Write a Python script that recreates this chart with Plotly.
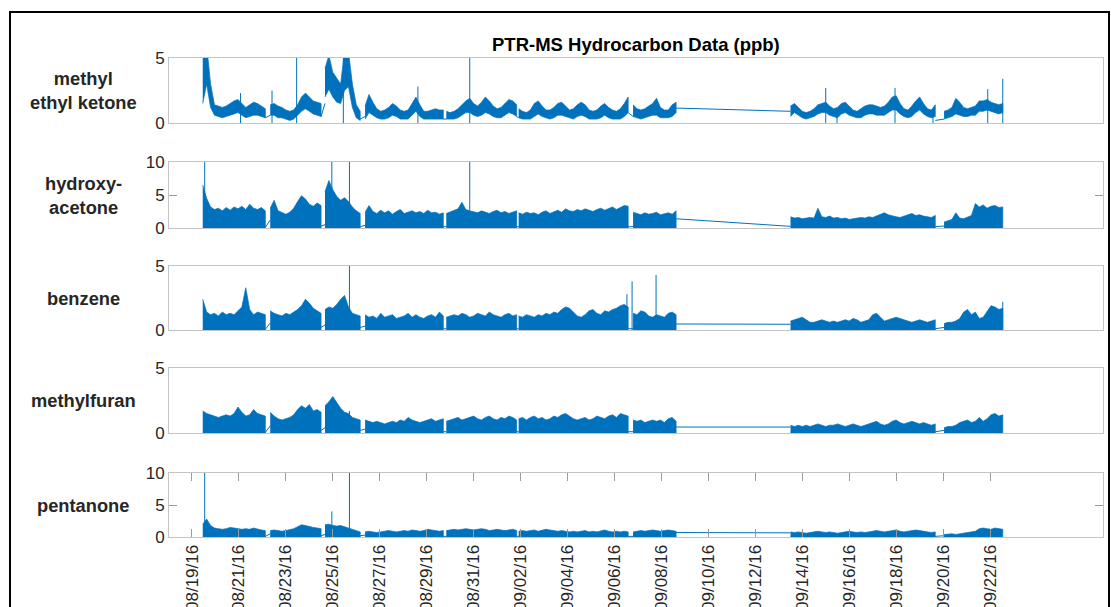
import pandas as pd
import plotly.graph_objects as go

# ---------------------------------------------------------------------------
# PTR-MS hydrocarbon record, Aug-Sep 2016 (ppb).
# Each series is stored as a 4-hour max/min envelope for every
# continuous measurement segment; isolated spikes and the samples
# bridging gaps between segments are listed separately.
# ---------------------------------------------------------------------------

SEG_START = ["2016-08-19 11:00", "2016-08-22 08:00", "2016-08-24 16:00",
             "2016-08-26 09:00", "2016-08-29 20:00", "2016-09-01 22:00",
             "2016-09-06 19:00", "2016-09-13 12:00", "2016-09-20 01:00"]
SEG_LEN = [17, 14, 10, 21, 19, 29, 12, 38, 16]
STEP = "4h"

SPECIES = ["methyl<br>ethyl ketone", "hydroxy-<br>acetone", "benzene",
           "methylfuran", "pentanone"]
Y_MAX = [5, 10, 5, 5, 10]
Y_TICKS = [[0, 5], [0, 5, 10], [0, 5], [0, 5], [0, 5, 10]]

TICK_DATES = ["2016-08-19", "2016-08-21", "2016-08-23", "2016-08-25",
              "2016-08-27", "2016-08-29", "2016-08-31", "2016-09-02",
              "2016-09-04", "2016-09-06", "2016-09-08", "2016-09-10",
              "2016-09-12", "2016-09-14", "2016-09-16", "2016-09-18",
              "2016-09-20", "2016-09-22"]
X_RANGE = ["2016-08-18 00:30", "2016-09-26 19:30"]

# methyl ethyl ketone
MEK_HIGH = [
    [5.5, 6.0, 3.0, 1.4, 1.3, 1.2, 1.3, 1.5, 1.7, 1.8, 1.5, 1.2, 1.4, 1.6, 1.5, 1.3, 1.1],
    [1.4, 1.5, 1.3, 1.2, 1.0, 0.9, 1.0, 1.4, 2.0, 2.3, 2.0, 1.7, 1.6, 1.5],
    [4.2, 5.2, 3.9, 3.4, 3.0, 5.5, 5.5, 3.0, 1.4, 0.9],
    [1.3, 2.2, 1.6, 1.1, 0.9, 1.0, 1.2, 1.5, 1.3, 1.0, 0.9, 1.0, 1.5, 2.0, 1.4, 0.9, 0.9, 1.0, 1.1, 1.0, 1.0],
    [0.9, 0.8, 0.9, 1.1, 1.4, 1.7, 1.9, 1.5, 1.3, 1.6, 2.0, 1.7, 1.3, 1.1, 1.2, 1.5, 1.8, 1.7, 1.4],
    [1.1, 0.9, 0.8, 1.0, 1.5, 1.7, 1.3, 1.0, 1.0, 1.2, 1.5, 1.6, 1.3, 1.0, 1.1, 1.4, 1.6, 1.4, 1.0, 0.9,
     1.0, 1.3, 1.5, 1.2, 1.0, 0.9, 1.1, 1.5, 2.0],
    [1.4, 1.1, 1.0, 1.1, 1.3, 1.5, 1.9, 1.2, 1.0, 1.0, 1.4, 1.6],
    [1.3, 1.5, 1.2, 0.9, 0.8, 0.9, 1.1, 1.4, 1.5, 1.6, 1.3, 1.1, 1.2, 1.5, 1.6, 1.3, 1.0, 0.9, 1.1, 1.3,
     1.4, 1.4, 1.3, 1.2, 1.3, 1.6, 2.0, 2.1, 1.5, 1.1, 1.0, 1.3, 1.7, 2.0, 1.5, 1.1, 1.0, 1.4],
    [0.9, 1.0, 1.2, 1.9, 1.6, 1.2, 1.1, 1.2, 1.3, 1.7, 1.7, 1.8, 1.6, 1.5, 1.4, 1.5],
]
MEK_LOW = [
    [1.5, 3.0, 1.2, 0.6, 0.5, 0.4, 0.5, 0.6, 0.7, 0.8, 0.6, 0.4, 0.5, 0.6, 0.6, 0.5, 0.4],
    [0.6, 0.6, 0.4, 0.4, 0.3, 0.2, 0.3, 0.6, 0.9, 1.1, 0.9, 0.7, 0.6, 0.5],
    [2.0, 2.6, 2.0, 1.6, 1.5, 2.5, 2.8, 1.2, 0.4, 0.2],
    [0.3, 0.8, 0.6, 0.4, 0.3, 0.3, 0.4, 0.6, 0.5, 0.3, 0.3, 0.3, 0.6, 0.9, 0.5, 0.3, 0.3, 0.3, 0.3, 0.3, 0.3],
    [0.3, 0.3, 0.3, 0.4, 0.6, 0.8, 0.8, 0.6, 0.5, 0.6, 0.8, 0.7, 0.5, 0.4, 0.4, 0.6, 0.8, 0.7, 0.5],
    [0.4, 0.3, 0.3, 0.3, 0.5, 0.7, 0.5, 0.4, 0.3, 0.4, 0.6, 0.6, 0.5, 0.4, 0.3, 0.5, 0.6, 0.5, 0.3, 0.3,
     0.3, 0.4, 0.6, 0.4, 0.3, 0.3, 0.3, 0.5, 0.8],
    [0.5, 0.4, 0.3, 0.4, 0.5, 0.6, 0.6, 0.4, 0.4, 0.4, 0.5, 0.8],
    [0.5, 0.8, 0.6, 0.4, 0.3, 0.4, 0.5, 0.7, 0.8, 0.8, 0.6, 0.5, 0.4, 0.7, 0.8, 0.6, 0.5, 0.4, 0.4, 0.6,
     0.7, 0.7, 0.6, 0.6, 0.6, 0.8, 1.0, 1.0, 0.7, 0.5, 0.4, 0.5, 0.8, 1.0, 0.7, 0.5, 0.4, 0.5],
    [0.3, 0.4, 0.5, 0.7, 0.6, 0.5, 0.5, 0.6, 0.6, 0.9, 0.9, 1.0, 0.9, 0.8, 0.7, 0.8],
]
MEK_SPIKE_T = ["2016-08-21 01:40", "2016-08-22 09:50", "2016-08-23 11:00", "2016-08-25 10:45",
               "2016-08-28 15:00", "2016-08-30 20:00", "2016-09-15 00:00", "2016-09-15 11:30",
               "2016-09-17 22:50", "2016-09-19 13:40", "2016-09-21 21:40", "2016-09-22 13:00"]
MEK_SPIKE_V = [2.3, 2.5, 5.5, 5.5, 2.8, 5.5, 2.7, 1.0, 2.7, 1.0, 2.6, 3.4]
MEK_LINK = [(0.4, 0.6), (0.5, 1.5), (0.3, 0.5), (0.3, 0.3), (0.5, 0.4), (0.8, 0.5), (1.15, 0.9), (0.2, 0.3)]

# hydroxyacetone
HAC_HIGH = [
    [6.5, 4.5, 3.2, 2.8, 3.0, 2.6, 3.1, 2.7, 3.2, 2.9, 3.3, 2.8, 3.6, 3.0, 2.8, 3.1, 2.6],
    [3.0, 4.2, 2.6, 2.3, 2.1, 2.4, 3.0, 4.0, 4.9, 4.4, 3.6, 3.3, 3.8, 3.4],
    [5.5, 7.2, 5.8, 4.8, 4.2, 4.6, 4.0, 3.2, 2.6, 2.2],
    [2.4, 3.4, 2.5, 2.2, 2.7, 2.3, 2.6, 2.1, 2.5, 2.8, 2.2, 2.4, 2.6, 2.3, 2.5, 2.2, 2.7, 2.3, 2.4, 2.1, 2.3],
    [2.2, 2.4, 2.6, 2.9, 3.9, 2.8, 2.6, 2.5, 2.3, 2.6, 2.4, 2.2, 2.5, 2.7, 2.3, 2.5, 2.2, 2.4, 2.6],
    [2.3, 2.1, 2.4, 2.2, 2.3, 2.0, 2.4, 2.6, 2.2, 2.5, 2.7, 2.4, 2.9, 2.6, 2.5, 2.8, 2.6, 2.9, 2.7, 2.5,
     2.8, 3.0, 2.7, 2.9, 3.2, 2.8, 3.1, 3.4, 3.3],
    [2.4, 2.2, 2.0, 2.3, 2.1, 2.2, 2.4, 2.0, 2.2, 2.3, 2.1, 2.6],
    [1.7, 1.5, 1.6, 1.4, 1.5, 1.6, 1.5, 3.0, 1.7, 1.6, 1.8, 1.5, 1.6, 1.4, 1.5, 1.3, 1.4, 1.5, 1.6, 1.5,
     1.7, 1.6, 1.8, 2.0, 2.3, 2.0, 1.8, 1.7, 1.6, 1.8, 2.0, 2.2, 1.9, 2.0, 1.8, 1.7, 1.6, 1.9],
    [0.9, 1.1, 1.3, 2.3, 1.5, 1.4, 1.6, 1.9, 3.7, 3.2, 3.5, 3.0, 3.3, 3.4, 3.1, 3.2],
]
HAC_SPIKE_T = ["2016-08-19 13:00", "2016-08-24 23:00", "2016-08-25 17:00", "2016-08-30 20:00"]
HAC_SPIKE_V = [10.5, 10.5, 10.5, 10.5]
HAC_LINK = [(0.1, 1.2), (0.3, 0.5), (0.2, 0.4), (0.2, 0.2), (0.2, 0.2), (0.2, 0.2), (1.4, 0.25), (0.2, 0.3)]

# benzene
BEN_HIGH = [
    [2.4, 1.4, 1.2, 1.3, 1.1, 1.4, 1.2, 1.3, 1.2, 1.5, 1.8, 3.3, 1.6, 1.2, 1.4, 1.3, 1.2],
    [1.5, 1.3, 1.2, 1.1, 1.3, 1.2, 1.4, 1.6, 1.9, 2.4, 2.1, 1.7, 1.5, 1.3],
    [1.6, 1.8, 1.7, 2.0, 2.4, 2.7, 1.8, 1.3, 1.2, 1.1],
    [1.2, 1.0, 1.1, 0.9, 1.3, 1.0, 1.1, 1.2, 0.9, 1.0, 1.1, 1.3, 1.0, 1.2, 1.0, 0.9, 1.1, 1.2, 1.0, 1.4, 1.1],
    [1.0, 1.1, 1.2, 1.1, 1.3, 1.2, 1.0, 1.1, 1.3, 1.2, 1.1, 1.4, 1.2, 1.1, 1.0, 1.2, 1.3, 1.1, 1.2],
    [1.1, 1.0, 1.2, 1.1, 1.0, 1.2, 1.1, 1.3, 1.2, 1.4, 1.3, 1.6, 1.8, 1.7, 1.4, 1.1, 1.0, 1.2, 1.5, 1.6,
     1.3, 1.2, 1.5, 1.4, 1.6, 1.7, 1.9, 2.0, 1.8],
    [1.3, 1.2, 1.5, 1.4, 1.1, 1.0, 1.2, 1.1, 1.0, 1.3, 1.4, 1.2],
    [0.7, 0.8, 0.9, 1.0, 0.8, 0.6, 0.6, 0.7, 0.8, 0.7, 0.6, 0.7, 0.6, 0.7, 0.8, 0.7, 0.9, 0.8, 0.6, 0.7,
     0.8, 1.2, 1.3, 1.0, 0.7, 0.8, 0.9, 1.0, 0.9, 0.8, 0.7, 0.6, 0.7, 0.8, 0.7, 0.6, 0.7, 0.8],
    [0.5, 0.6, 0.6, 0.7, 0.9, 1.4, 1.6, 1.2, 1.4, 0.9, 1.0, 1.5, 1.9, 1.8, 1.6, 1.7],
]
BEN_SPIKE_T = ["2016-08-25 17:00", "2016-09-06 12:45", "2016-09-06 18:00", "2016-09-07 18:30",
               "2016-09-22 13:00"]
BEN_SPIKE_V = [5.3, 2.8, 3.8, 4.3, 2.2]
BEN_LINK = [(0.05, 0.55), (0.2, 0.4), (0.2, 0.3), (0.1, 0.1), (0.1, 0.1), (0.1, 0.1), (0.47, 0.45), (0.1, 0.2)]

# methylfuran
MFU_HIGH = [
    [1.7, 1.5, 1.4, 1.3, 1.2, 1.3, 1.4, 1.3, 1.5, 2.0, 1.6, 1.3, 1.4, 1.8, 1.5, 1.4, 1.3],
    [1.6, 1.3, 1.1, 1.0, 1.1, 1.2, 1.4, 1.8, 2.1, 1.9, 2.2, 1.7, 1.8, 1.6],
    [2.1, 2.4, 2.8, 2.3, 1.9, 1.6, 1.5, 1.2, 1.1, 1.0],
    [1.0, 0.9, 0.8, 0.9, 0.8, 0.7, 0.8, 0.9, 0.8, 1.0, 0.9, 1.2, 1.0, 0.9, 0.8, 0.9, 1.0, 1.1, 0.9, 1.0, 1.1],
    [0.9, 1.0, 1.1, 1.2, 1.0, 1.1, 1.2, 1.3, 1.1, 1.0, 1.2, 1.3, 1.1, 1.0, 1.2, 1.1, 1.3, 1.2, 1.0],
    [1.1, 1.2, 1.0, 1.2, 1.3, 1.1, 1.2, 1.0, 1.1, 1.3, 1.2, 1.4, 1.5, 1.3, 1.1, 1.0, 1.1, 1.2, 1.0, 1.1,
     1.3, 1.2, 1.1, 1.3, 1.4, 1.2, 1.5, 1.4, 1.3],
    [1.0, 0.9, 1.0, 0.8, 0.9, 1.0, 0.9, 1.0, 0.8, 1.1, 1.2, 0.9],
    [0.6, 0.5, 0.6, 0.5, 0.6, 0.5, 0.6, 0.7, 0.6, 0.5, 0.6, 0.6, 0.7, 0.6, 0.5, 0.6, 0.7, 0.6, 0.5, 0.6,
     0.7, 0.8, 0.9, 0.7, 0.6, 0.7, 0.9, 1.0, 0.8, 0.7, 0.8, 0.9, 0.8, 0.7, 0.8, 0.7, 0.6, 0.7],
    [0.4, 0.5, 0.5, 0.6, 0.8, 0.9, 1.0, 0.8, 0.9, 1.2, 0.9, 1.1, 1.4, 1.5, 1.3, 1.4],
]
MFU_SPIKE_T = ["2016-08-25 17:00"]
MFU_SPIKE_V = [1.7]
MFU_LINK = [(0.05, 0.55), (0.2, 0.4), (0.2, 0.3), (0.1, 0.1), (0.1, 0.1), (0.1, 0.1), (0.46, 0.46), (0.1, 0.2)]

# pentanone
PEN_HIGH = [
    [2.0, 2.8, 1.8, 1.4, 1.3, 1.2, 1.3, 1.5, 1.4, 1.3, 1.2, 1.3, 1.2, 1.4, 1.2, 1.1, 1.0],
    [1.0, 1.1, 1.0, 0.9, 1.0, 1.1, 1.3, 1.6, 1.9, 1.8, 1.6, 1.5, 1.4, 1.3],
    [1.9, 2.0, 1.8, 1.7, 1.8, 1.6, 1.4, 1.2, 1.0, 0.8],
    [0.8, 0.9, 0.8, 0.7, 0.8, 0.9, 1.0, 0.9, 0.8, 0.9, 1.0, 0.9, 1.1, 1.0, 0.9, 1.0, 1.2, 1.1, 1.0, 0.9, 1.0],
    [1.0, 1.1, 1.2, 1.1, 1.2, 1.3, 1.2, 1.1, 1.2, 1.3, 1.2, 1.0, 1.1, 1.2, 1.1, 1.0, 1.1, 1.2, 1.0],
    [0.9, 1.0, 0.9, 1.0, 1.1, 0.9, 1.0, 1.2, 1.1, 1.0, 0.9, 1.0, 0.9, 0.8, 0.9, 0.8, 0.9, 1.0, 0.8, 0.9,
     0.8, 0.9, 1.1, 0.9, 0.8, 0.9, 0.8, 0.9, 0.8],
    [0.8, 0.9, 1.0, 0.9, 1.0, 1.1, 1.0, 0.9, 1.0, 1.1, 1.0, 0.9],
    [0.8, 0.7, 0.8, 0.7, 0.6, 0.7, 0.8, 0.9, 0.8, 0.7, 0.8, 0.7, 0.6, 0.7, 0.8, 0.9, 0.8, 0.7, 0.8, 0.7,
     0.8, 0.9, 1.0, 0.9, 0.8, 0.9, 1.0, 1.1, 0.9, 0.8, 0.9, 1.0, 1.1, 1.0, 0.9, 0.8, 0.7, 0.8],
    [0.4, 0.5, 0.5, 0.4, 0.5, 0.6, 0.7, 0.8, 0.9, 1.3, 1.4, 1.3, 1.2, 1.4, 1.3, 1.2],
]
PEN_SPIKE_T = ["2016-08-19 13:00", "2016-08-24 23:00", "2016-08-25 17:00"]
PEN_SPIKE_V = [10.5, 4.0, 10.5]
PEN_LINK = [(0.1, 0.5), (0.2, 0.4), (0.2, 0.3), (0.1, 0.1), (0.1, 0.1), (0.1, 0.1), (0.7, 0.65), (0.1, 0.2)]

SERIES = [
    (MEK_HIGH, MEK_LOW, MEK_SPIKE_T, MEK_SPIKE_V, MEK_LINK),
    (HAC_HIGH, None, HAC_SPIKE_T, HAC_SPIKE_V, HAC_LINK),
    (BEN_HIGH, None, BEN_SPIKE_T, BEN_SPIKE_V, BEN_LINK),
    (MFU_HIGH, None, MFU_SPIKE_T, MFU_SPIKE_V, MFU_LINK),
    (PEN_HIGH, None, PEN_SPIKE_T, PEN_SPIKE_V, PEN_LINK),
]

# ---------------------------------------------------------------------------
# figure geometry (pixels of a 1111 x 607 canvas)
# ---------------------------------------------------------------------------
W, H = 1111, 607
PLOT_LEFT, PLOT_RIGHT = 169, 1103
PANEL_PX = [(58, 123), (162, 228), (266, 330), (368, 433), (473, 537)]
BLUE = "#0072BD"
AXIS_GREY = "#c4c4c4"
TICK_GREY = "#9a9a9a"
TEXT = "#262626"
FONT = "Liberation Sans, Arial, Helvetica, sans-serif"

seg_times = [pd.date_range(s, periods=n, freq=STEP) for s, n in zip(SEG_START, SEG_LEN)]

fig = go.Figure()

for p, (high, low, sp_t, sp_v, link) in enumerate(SERIES):
    xa = "x" if p == 0 else f"x{p + 1}"
    ya = "y" if p == 0 else f"y{p + 1}"
    for k, t in enumerate(seg_times):
        hi = high[k]
        lo = low[k] if low is not None else [0.0] * len(hi)
        assert len(hi) == len(t) and len(lo) == len(t)
        xs = list(t) + list(t[::-1])
        ys = list(hi) + list(lo[::-1])
        fig.add_trace(go.Scatter(
            x=xs, y=ys, xaxis=xa, yaxis=ya, mode="lines", fill="toself",
            fillcolor=BLUE, line=dict(color=BLUE, width=0.7),
            hoverinfo="skip", showlegend=False))
    # thin lines bridging the gaps between segments
    lx, ly = [], []
    for k in range(len(seg_times) - 1):
        lx += [seg_times[k][-1], seg_times[k + 1][0], None]
        ly += [link[k][0], link[k][1], None]
    fig.add_trace(go.Scatter(x=lx, y=ly, xaxis=xa, yaxis=ya, mode="lines",
                             line=dict(color=BLUE, width=1), hoverinfo="skip",
                             showlegend=False))
    # isolated single-sample spikes
    sx, sy = [], []
    for t, v in zip(sp_t, sp_v):
        sx += [pd.Timestamp(t), pd.Timestamp(t), None]
        sy += [0, v, None]
    fig.add_trace(go.Scatter(x=sx, y=sy, xaxis=xa, yaxis=ya, mode="lines",
                             line=dict(color=BLUE, width=1), hoverinfo="skip",
                             showlegend=False))

layout = dict(
    width=W, height=H, margin=dict(l=0, r=0, t=0, b=0),
    paper_bgcolor="white", plot_bgcolor="white", showlegend=False,
    font=dict(family=FONT, color=TEXT),
)

annotations = []
for p, (top, bot) in enumerate(PANEL_PX):
    sfx = "" if p == 0 else str(p + 1)
    last = p == len(PANEL_PX) - 1
    layout["xaxis" + sfx] = dict(
        domain=[PLOT_LEFT / W, PLOT_RIGHT / W], anchor="y" + sfx,
        range=X_RANGE, type="date", showgrid=False, zeroline=False,
        showline=True, linecolor=AXIS_GREY, linewidth=1,
        mirror="ticks" if last else True,
        ticks="inside" if last else "", ticklen=8, tickcolor=TICK_GREY,
        tickvals=TICK_DATES, tickformat="%m/%d/%y", tickangle=-90,
        showticklabels=last, tickfont=dict(size=17, color=TEXT),
        automargin=False,
    )
    layout["yaxis" + sfx] = dict(
        domain=[1 - bot / H, 1 - top / H], anchor="x" + sfx,
        range=[0, Y_MAX[p]], tickvals=Y_TICKS[p], showgrid=False, zeroline=False,
        showline=True, linecolor=AXIS_GREY, linewidth=1, mirror="ticks",
        ticks="inside", ticklen=8, tickcolor=TICK_GREY,
        tickfont=dict(size=17, color=TEXT), automargin=False,
    )
    annotations.append(dict(
        text=f"<b>{SPECIES[p]}</b>", xref="paper", yref="paper",
        x=83 / W, y=1 - (top + bot) / 2 / H, xanchor="center", yanchor="middle",
        showarrow=False, align="center", font=dict(size=18.3, color=TEXT, family=FONT)))

annotations.append(dict(
    text="<b>PTR-MS Hydrocarbon Data (ppb)</b>", xref="paper", yref="paper",
    x=(PLOT_LEFT + PLOT_RIGHT) / 2 / W, y=1 - 45 / H, xanchor="center",
    yanchor="middle", showarrow=False, font=dict(size=18.5, color="black", family=FONT)))

layout["annotations"] = annotations
layout["shapes"] = [dict(
    type="path", xref="paper", yref="paper",
    path=f"M {10 / W},-0.1 L {10 / W},{1 - 12 / H} L {1109 / W},{1 - 12 / H} L {1109 / W},-0.1",
    line=dict(color="black", width=2), layer="above")]

fig.update_layout(**layout)
fig.write_html("out.html", config={"displayModeBar": False})
